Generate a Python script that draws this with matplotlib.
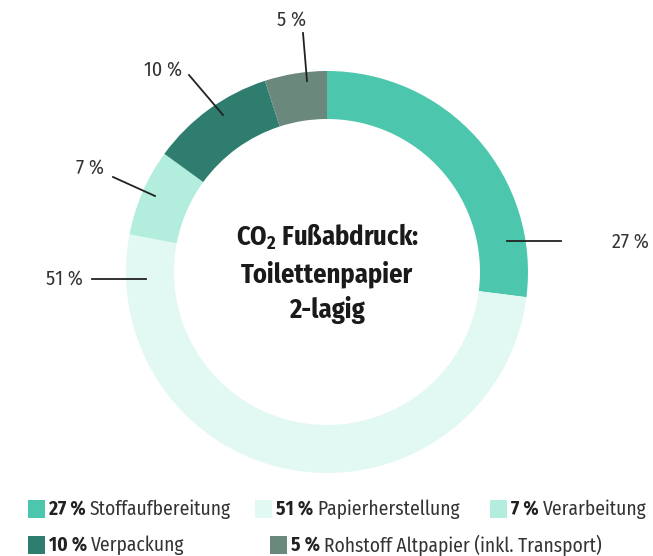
import matplotlib
matplotlib.use('Agg')
import matplotlib.pyplot as plt
from matplotlib import font_manager
from matplotlib.patches import Rectangle

# data
names = ['Stoffaufbereitung', 'Papierherstellung', 'Verarbeitung',
         'Verpackung', 'Rohstoff Altpapier (inkl. Transport)']
shares = [27, 51, 7, 10, 5]
colors = ['#4cc7ad', '#e2f8f2', '#b2eddd', '#2e7d6e', '#6b887d']

# label layout (pixels from top-left): text pos, line start, line end
label_text = [(630, 242), (64, 279), (90, 168), (163, 70), (292, 20)]
label_line = [((507, 241), (561, 241)), ((92, 279), (146, 279)),
              ((113, 177), (155, 196)), ((189, 75), (223, 115)),
              ((303, 33), (307, 81))]
leg_pos = [(28, 509), (255, 509), (490, 509), (28, 545), (270, 545)]

weights = {}
for f in font_manager.fontManager.ttflist:
    weights.setdefault(f.name, set()).add(f.weight)
fam = 'DejaVu Sans'
for cand in ['Fira Sans Condensed', 'Roboto Condensed', 'Open Sans Condensed',
             'Asap Condensed', 'Sofia Sans Condensed', 'Archivo Narrow']:
    w = weights.get(cand, set())
    if any(int(x) <= 400 for x in w) and any(int(x) >= 700 for x in w):
        fam = cand
        break
plt.rcParams['font.family'] = [fam, 'DejaVu Sans']
plt.rcParams['mathtext.fontset'] = 'custom'
plt.rcParams['mathtext.bf'] = fam + ':bold'
plt.rcParams['mathtext.rm'] = fam

W, H = 653, 556
fig = plt.figure(figsize=(W/100, H/100), dpi=100)
ax = fig.add_axes([0, 0, 1, 1])
ax.set_xlim(0, W)
ax.set_ylim(0, H)

def Y(y):
    return H - y

ax.pie(shares, colors=colors, startangle=90, counterclock=False,
       center=(327, Y(272)), radius=201,
       wedgeprops=dict(width=48, linewidth=0))

for s, (tx, ty), (p0, p1) in zip(shares, label_text, label_line):
    ax.plot([p0[0], p1[0]], [Y(p0[1]), Y(p1[1])], color='#222222', lw=1.3,
            zorder=5)
    ax.text(tx, Y(ty), f'{s} %', fontsize=14.5, color='#333333',
            fontweight='normal', ha='center', va='center')

ax.text(327, Y(273), 'CO$_\\mathbf{2}$ Fußabdruck:\nToilettenpapier\n2-lagig',
        fontsize=19, fontweight='bold', ha='center', va='center',
        linespacing=1.38, color='#1a1a1a')

# legend
ax.set_xlim(0, W)
ax.set_ylim(0, H)
ax.set_aspect('equal')
fig.canvas.draw()
r = fig.canvas.get_renderer()
for s, n, c, (lx, ly) in zip(shares, names, colors, leg_pos):
    ax.add_patch(Rectangle((lx, Y(ly) - 9), 17, 18, color=c, lw=0))
    t = ax.text(lx + 21, Y(ly), f'{s} %', fontsize=14, fontweight='bold',
                color='#222222', va='center', ha='left')
    bb = t.get_window_extent(renderer=r)
    x1 = ax.transData.inverted().transform((bb.x1, bb.y0))[0]
    ax.text(x1 + 4, Y(ly), n, fontsize=14, color='#333333',
            fontweight='normal', va='center', ha='left')

ax.set_xlim(0, W)
ax.set_ylim(0, H)
ax.axis('off')
fig.savefig('out.png', dpi=100)
